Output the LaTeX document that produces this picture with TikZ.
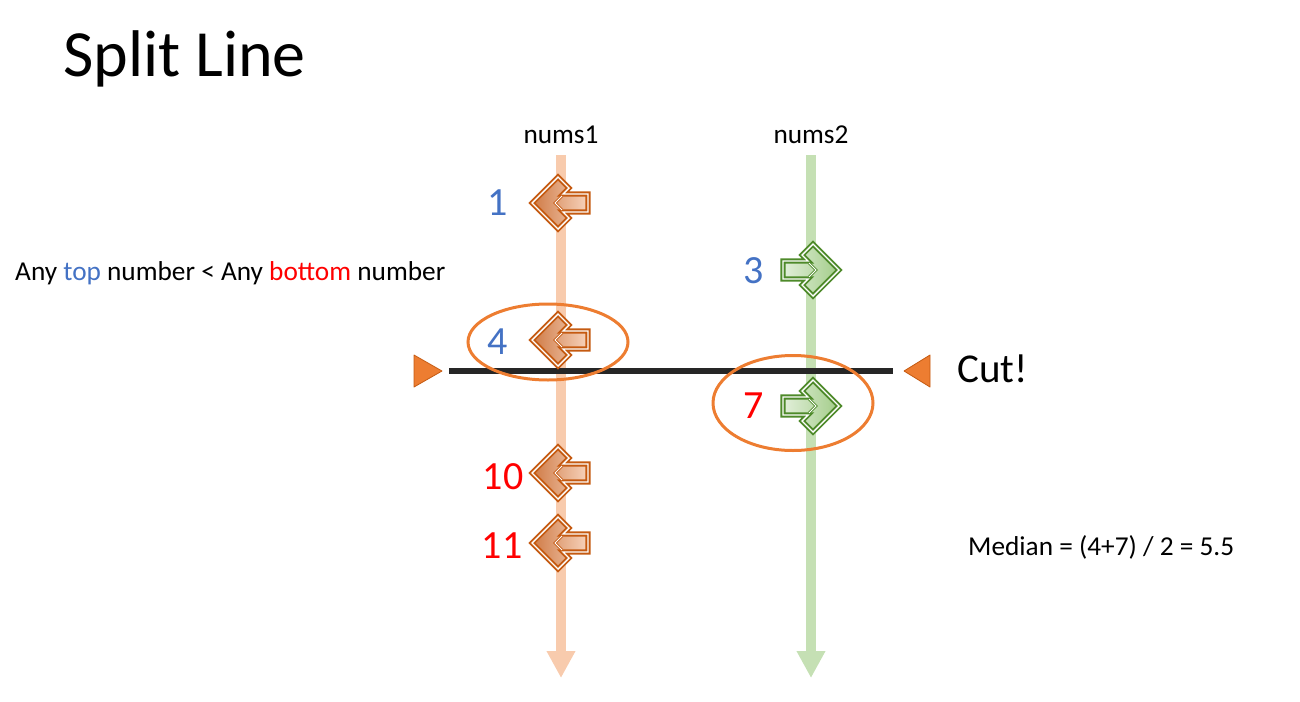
\documentclass[tikz,border=0pt]{standalone}
\usepackage{fontspec}
\setmainfont{Carlito}
\usetikzlibrary{arrows.meta,shapes.geometric}
\definecolor{oline}{HTML}{F8CBAD}
\definecolor{gline}{HTML}{C5E0B4}
\definecolor{odark}{HTML}{C55A11}
\definecolor{gdark}{HTML}{4E8A2A}
\definecolor{accent}{HTML}{ED7D31}
\definecolor{tblue}{HTML}{4472C4}
\definecolor{tred}{HTML}{FF0000}
\definecolor{cutcol}{HTML}{262626}
\definecolor{ofillA}{HTML}{CF7A45}
\definecolor{ofillB}{HTML}{F7D3BC}
\definecolor{gfillA}{HTML}{E2EFDA}
\definecolor{gfillB}{HTML}{A2CC88}
\tikzset{
  axisline/.style={line width=10pt,-{Triangle[width=27pt,length=27pt]}},
  oshape/.style={draw=odark,double=white,double distance=1.4pt,line width=1.9pt,
    left color=ofillA,right color=ofillB,line join=miter},
  gshape/.style={draw=gdark,double=white,double distance=1.4pt,line width=1.9pt,
    left color=gfillA,right color=gfillB,line join=miter},
  onotch/.style={draw=odark,double=white,double distance=1pt,line width=0.8pt,line join=miter},
  gnotch/.style={draw=gdark,double=white,double distance=1pt,line width=0.8pt,line join=miter},
  lbl/.style={font=\fontsize{27.3}{32}\selectfont,inner sep=0pt},
  num/.style={font=\fontsize{40}{48}\selectfont,inner sep=0pt,anchor=base},
  ring/.style={draw=accent,line width=3pt,ellipse,inner sep=0pt},
  marker/.style={fill=accent,draw=odark,line width=0.8pt,line join=round},
  oarrow/.pic={
    \path[oshape] (-29,0) -- (-3,-26) -- (8,-15) -- (2,-9) -- (27,-9) -- (27,9)
      -- (2,9) -- (8,15) -- (-3,26) -- cycle;
    \path[onotch] (1,-7) -- (-6,0) -- (1,7);
  },
  garrow/.pic={
    \path[gshape] (29,0) -- (3,-26) -- (-8,-15) -- (-2,-9) -- (-27,-9) -- (-27,9)
      -- (-2,9) -- (-8,15) -- (3,26) -- cycle;
    \path[gnotch] (-1,-7) -- (6,0) -- (-1,7);
  }
}
\begin{document}
\begin{tikzpicture}[x=1pt,y=-1pt]
\useasboundingbox (0,0) rectangle (1300,701);
% title
\node[font=\fontsize{66}{76}\selectfont,inner sep=0pt,anchor=base west] (title) at (63,77) {Split Line};
% column labels
\node[lbl,anchor=base] (n1) at (561,143) {nums1};
\node[lbl,anchor=base] (n2) at (811,143) {nums2};
% vertical axes
\coordinate (n1top) at (561,155);
\coordinate (n1bot) at (561,678);
\coordinate (n2top) at (811,155);
\coordinate (n2bot) at (811,678);
\draw[axisline,draw=oline,fill=oline] (n1top) -- (n1bot);
\draw[axisline,draw=gline,fill=gline] (n2top) -- (n2bot);
% cut line
\coordinate (cutL) at (449,371);
\coordinate (cutR) at (893,371);
\draw[cutcol,line width=6pt] (cutL) -- (cutR);
\path[marker] (414,355) -- (442,371) -- (414,387) -- cycle;
\path[marker] (904,371) -- (930,355) -- (930,387) -- cycle;
\node[font=\fontsize{41}{48}\selectfont,inner sep=0pt,anchor=base west] (cut) at (957,382) {Cut!};
% arrows
\pic at (561,203) {oarrow};
\pic at (561,340) {oarrow};
\pic at (561,473) {oarrow};
\pic at (561,543) {oarrow};
\pic at (810,270) {garrow};
\pic at (810,406) {garrow};
% numbers
\node[num,text=tblue] (v1) at (498,215) {1};
\node[num,text=tblue] (v3) at (754,283) {3};
\node[num,text=tblue] (v4) at (498,354) {4};
\node[num,text=tred] (v7) at (754,418) {7};
\node[num,text=tred] (v10) at (503,489) {10};
\node[num,text=tred] (v11) at (502,558) {11};
% rings
\node[ring,minimum width=160pt,minimum height=76pt] (ring1) at (548,342) {};
\node[ring,minimum width=160pt,minimum height=95pt] (ring2) at (793,403) {};
% side texts
\node[lbl,anchor=base west] (rule) at (15,280) {Any \textcolor{tblue}{top} number < Any \textcolor{tred}{bottom} number};
\node[lbl,anchor=base west] (median) at (968,555) {Median = (4+7) / 2 = 5.5};
\end{tikzpicture}
\end{document}
